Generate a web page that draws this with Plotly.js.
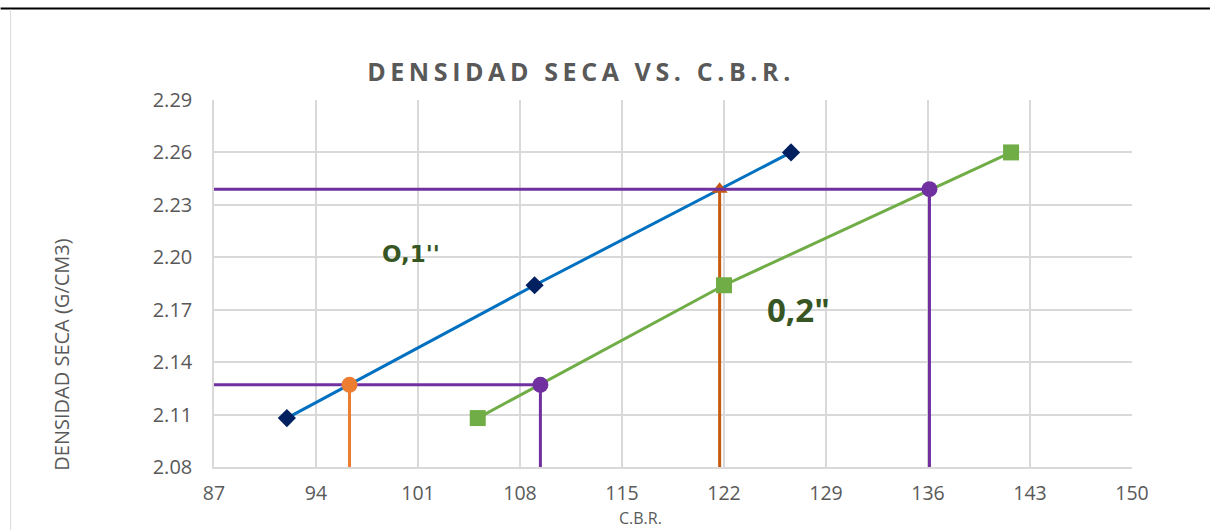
<!DOCTYPE html>
<html><head><meta charset="utf-8">
<script src="https://cdn.plot.ly/plotly-3.0.1.min.js"></script>
<style>body{margin:0;background:#fff}.gtitle{letter-spacing:4.6px}</style>
</head><body><div id="chart" style="width:1210px;height:530px"></div>
<script>
// Data
const xTicks = [87, 94, 101, 108, 115, 122, 129, 136, 143, 150];
const yTicks = [2.08, 2.11, 2.14, 2.17, 2.20, 2.23, 2.26, 2.29];
const densidad = [2.108, 2.184, 2.26];
const cbr01 = [92.0, 109.0, 126.6];   // 0,1"
const cbr02 = [105.1, 122.0, 141.7];  // 0,2"
const densMin = 2.08;
const xMin = 87;
const dens95 = 2.127;
const dens100 = 2.239;
const cbr01at95 = 96.3;
const cbr02at95 = 109.4;
const cbr01at100 = 121.7;
const cbr02at100 = 136.1;

const purple = '#7030A0';
const traces = [
  {x: cbr01, y: densidad, mode: 'lines', line: {color: '#0070C0', width: 3}, hoverinfo: 'skip'},
  {x: cbr02, y: densidad, mode: 'lines', line: {color: '#70AD47', width: 3}, hoverinfo: 'skip'},
  {x: [cbr01at95, cbr01at95], y: [dens95, densMin], mode: 'lines', line: {color: '#ED7D31', width: 3}},
  {x: [cbr02at95, cbr02at95], y: [dens95, densMin], mode: 'lines', line: {color: purple, width: 3}},
  {x: [cbr01at100, cbr01at100], y: [dens100, densMin], mode: 'lines', line: {color: '#C55A11', width: 3}},
  {x: [cbr02at100, cbr02at100], y: [dens100, densMin], mode: 'lines', line: {color: purple, width: 3}},
  {x: cbr01, y: densidad, mode: 'markers', marker: {symbol: 'diamond', size: 14, color: '#002060'}},
  {x: cbr02, y: densidad, mode: 'markers', marker: {symbol: 'square', size: 16, color: '#70AD47'}},
  {x: [cbr01at100], y: [dens100], mode: 'markers', marker: {symbol: 'triangle-up', size: 14, color: '#C55A11'}},
  {x: [xMin, cbr02at95], y: [dens95, dens95], mode: 'lines', line: {color: purple, width: 3}},
  {x: [xMin, cbr02at100], y: [dens100, dens100], mode: 'lines', line: {color: purple, width: 3}},
  {x: [cbr01at95], y: [dens95], mode: 'markers', marker: {symbol: 'circle', size: 16, color: '#ED7D31'}},
  {x: [cbr02at95, cbr02at100], y: [dens95, dens100], mode: 'markers', marker: {symbol: 'circle', size: 16, color: purple}}
];

const W = 1210, H = 530, L = 213.5, R = 78, T = 100.4, B = 63.3;
const pw = W - L - R, ph = H - T - B;
const px = v => (v - L) / pw, py = v => 1 - (v - T) / ph;

const layout = {
  width: W, height: H,
  margin: {l: L, r: R, t: T, b: B},
  paper_bgcolor: '#fff', plot_bgcolor: '#fff',
  showlegend: false,
  font: {family: 'Open Sans, sans-serif', color: '#595959'},
  title: {text: '<b>DENSIDAD SECA VS. C.B.R.</b>', x: 581 / W, xanchor: 'center', y: 1 - 72 / H, yanchor: 'middle',
          font: {size: 25, color: '#595959', family: 'Open Sans, sans-serif'}},
  xaxis: {range: [87, 150], tickvals: xTicks, ticktext: xTicks.map(String), showgrid: true,
          gridcolor: '#D9D9D9', gridwidth: 1.5, zeroline: false, showline: true, linecolor: '#D9D9D9', linewidth: 1.5,
          ticks: '', ticklabelstandoff: 8, tickfont: {size: 19.5, color: '#595959'}},
  yaxis: {range: [2.08, 2.29], tickvals: yTicks, ticktext: yTicks.map(v => v.toFixed(2)), showgrid: true,
          gridcolor: '#D9D9D9', gridwidth: 1.5, zeroline: false, showline: true, linecolor: '#D9D9D9', linewidth: 1.5,
          ticks: '', ticklabelstandoff: 16, tickfont: {size: 20, color: '#595959'}},
  annotations: [
    {xref: 'paper', yref: 'paper', x: px(640), y: py(518), xanchor: 'center', yanchor: 'middle', text: 'C.B.R.', showarrow: false,
     font: {size: 16, color: '#595959'}},
    {xref: 'paper', yref: 'paper', x: px(61), y: py(355), xanchor: 'center', yanchor: 'middle', text: 'DENSIDAD SECA (G/CM3)', textangle: -90, showarrow: false,
     font: {size: 20, color: '#595959'}},
    {x: 100.5, y: 2.202, text: "<b>O,1''</b>", showarrow: false, font: {size: 23, color: '#375623', family: 'DejaVu Sans, sans-serif'}},
    {x: 127.1, y: 2.1702, text: '<b>0,2"</b>', showarrow: false, font: {size: 33, color: '#375623', family: 'Open Sans, sans-serif'}}
  ],
  shapes: [
    {type: 'line', xref: 'paper', yref: 'paper', x0: px(0), x1: px(W), y0: py(9), y1: py(9), line: {color: '#000', width: 2}},
    {type: 'line', xref: 'paper', yref: 'paper', x0: px(10), x1: px(10), y0: py(H), y1: py(10), line: {color: '#D9D9D9', width: 1}}
  ]
};
Plotly.newPlot('chart', traces, layout, {displayModeBar: false});
</script></body></html>
